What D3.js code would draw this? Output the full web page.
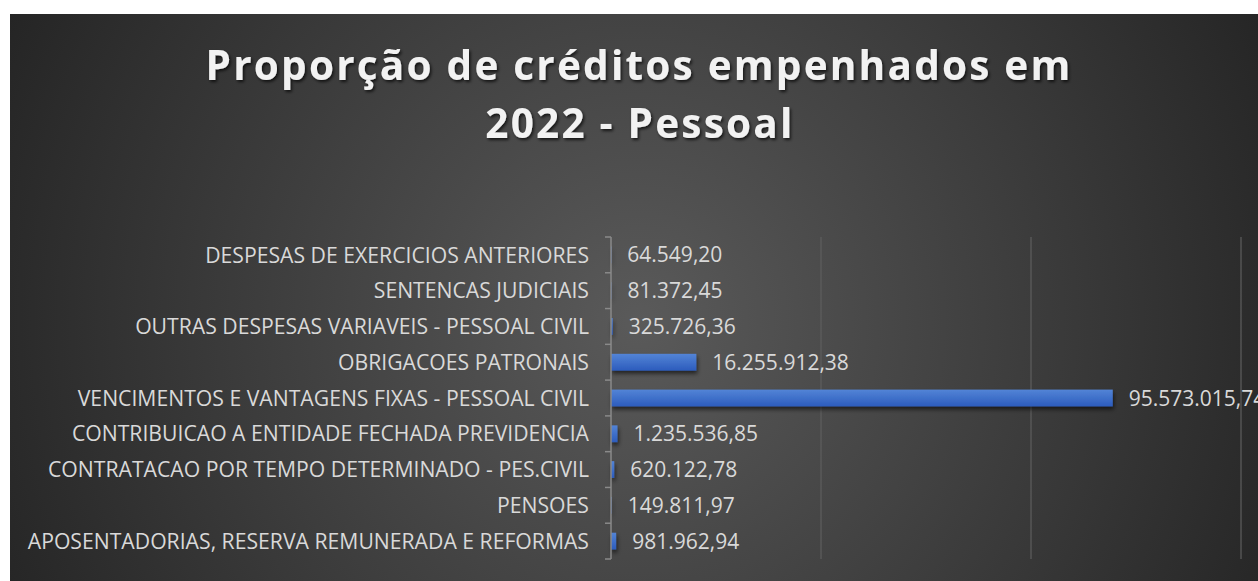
<!DOCTYPE html>
<html><head><meta charset="utf-8">
<script src="https://cdn.jsdelivr.net/npm/d3@7"></script>
<style>html,body{margin:0;padding:0;background:#fff;}svg{display:block;}</style>
</head><body>
<svg id="chart" width="1258" height="581"></svg>
<script>
const titleLines = ["Proporção de créditos empenhados em", "2022 - Pessoal"];
const categories = [
  "DESPESAS DE EXERCICIOS ANTERIORES",
  "SENTENCAS JUDICIAIS",
  "OUTRAS DESPESAS VARIAVEIS - PESSOAL CIVIL",
  "OBRIGACOES PATRONAIS",
  "VENCIMENTOS E VANTAGENS FIXAS - PESSOAL CIVIL",
  "CONTRIBUICAO A ENTIDADE FECHADA PREVIDENCIA",
  "CONTRATACAO POR TEMPO DETERMINADO - PES.CIVIL",
  "PENSOES",
  "APOSENTADORIAS, RESERVA REMUNERADA E REFORMAS"
];
const values = [64549.20, 81372.45, 325726.36, 16255912.38, 95573015.74, 1235536.85, 620122.78, 149811.97, 981962.94];
const gridTicks = [40e6, 80e6, 120e6];

const svg = d3.select("#chart");
const defs = svg.append("defs");
const rg = defs.append("radialGradient").attr("id","bg").attr("gradientUnits","userSpaceOnUse")
  .attr("cx",640).attr("cy",320).attr("r",700);
rg.append("stop").attr("offset","0").attr("stop-color","#5a5a5a");
rg.append("stop").attr("offset","1").attr("stop-color","#252525");
const bg = defs.append("linearGradient").attr("id","bar").attr("x1",0).attr("y1",0).attr("x2",0).attr("y2",1);
bg.append("stop").attr("offset","0").attr("stop-color","#5384d6");
bg.append("stop").attr("offset","1").attr("stop-color","#2c5cbd");
const sh = defs.append("filter").attr("id","sh").attr("x","-5%").attr("y","-50%").attr("width","110%").attr("height","250%");
sh.append("feDropShadow").attr("dx",1).attr("dy",3).attr("stdDeviation",2).attr("flood-color","#000").attr("flood-opacity",0.6);
const tsh = defs.append("filter").attr("id","tsh").attr("x","-5%").attr("y","-30%").attr("width","110%").attr("height","160%");
tsh.append("feDropShadow").attr("dx",1.5).attr("dy",2).attr("stdDeviation",1.5).attr("flood-color","#000").attr("flood-opacity",0.7);

svg.append("rect").attr("x",10).attr("y",14).attr("width",1260).attr("height",600).attr("fill","url(#bg)");

// Title
const title = svg.append("g").attr("filter","url(#tsh)");
const t1 = title.append("text").attr("x",639).attr("y",80).attr("text-anchor","middle")
  .attr("font-family","'Open Sans'").attr("font-weight","bold").attr("font-size",40.5)
  .attr("fill","#f2f2f2").text(titleLines[0]);
const w0 = t1.node().getComputedTextLength();
const ls = (867 - w0) / titleLines[0].length;
t1.attr("letter-spacing", ls);
title.append("text").attr("x",640).attr("y",138).attr("text-anchor","middle")
  .attr("font-family","'Open Sans'").attr("font-weight","bold").attr("font-size",40.5)
  .attr("letter-spacing", ls).attr("fill","#f2f2f2").text(titleLines[1]);

const x = d3.scaleLinear().domain([0,120e6]).range([611,1241]);
const y = d3.scaleBand().domain(categories).range([237,559]).paddingInner(0.53).paddingOuter(0.265);

// gridlines
svg.append("g").selectAll("line").data(gridTicks).join("line")
  .attr("x1",d=>x(d)).attr("x2",d=>x(d)).attr("y1",237).attr("y2",559)
  .attr("stroke","#5e5e5e").attr("stroke-width",1.2);

// bars
svg.append("g").attr("filter","url(#sh)").selectAll("rect").data(values).join("rect")
  .attr("x",x(0)).attr("y",(d,i)=>y(categories[i]))
  .attr("width",d=>Math.max(0.6, x(d)-x(0))).attr("height",y.bandwidth())
  .attr("fill","url(#bar)");

// axis bracket
const ax = svg.append("g").attr("stroke","#8a8a8a").attr("stroke-width",1.5).attr("fill","none");
ax.append("line").attr("x1",x(0)).attr("x2",x(0)).attr("y1",y.range()[0]).attr("y2",y.range()[1]);
const bounds = d3.range(categories.length+1).map(i => y.range()[0] + i*y.step());
ax.selectAll("line.t").data(bounds).join("line").attr("class","t")
  .attr("x1",x(0)-6).attr("x2",x(0)).attr("y1",d=>d).attr("y2",d=>d);

// category labels
svg.append("g").selectAll("text").data(categories).join("text")
  .attr("x",589).attr("y",d=>y(d)+y.bandwidth()/2).attr("dy","0.36em")
  .attr("text-anchor","end").attr("font-family","'Open Sans'").attr("font-size",21.2)
  .attr("fill","#d9d9d9").text(d=>d);

// value labels
const fmt = d3.formatLocale({decimal:",", thousands:".", grouping:[3], currency:["R$",""]}).format(",.2f");
svg.append("g").selectAll("text").data(values).join("text")
  .attr("x",d=>x(d)+16).attr("y",(d,i)=>y(categories[i])+y.bandwidth()/2).attr("dy","0.36em")
  .attr("font-family","'Open Sans'").attr("font-size",21)
  .attr("fill","#d9d9d9").text(d=>fmt(d));
</script>
</body></html>
